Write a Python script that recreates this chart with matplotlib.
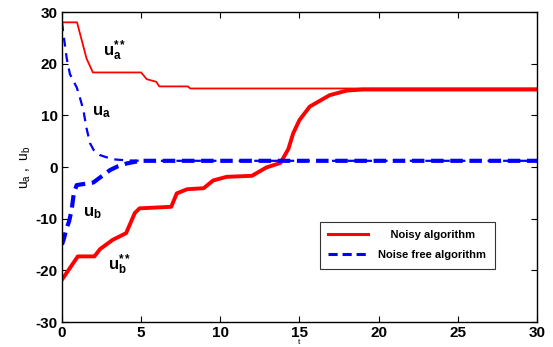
import numpy as np
import matplotlib
matplotlib.use('Agg')
import matplotlib.pyplot as plt

plt.rcParams['font.family'] = ['Liberation Sans', 'DejaVu Sans']
plt.rcParams['font.weight'] = 'bold'
plt.rcParams['axes.unicode_minus'] = False
plt.rcParams['mathtext.fontset'] = 'custom'
plt.rcParams['mathtext.rm'] = 'Liberation Sans:bold'
plt.rcParams['mathtext.it'] = 'Liberation Sans:bold'
plt.rcParams['mathtext.bf'] = 'Liberation Sans:bold'

# noisy algorithm, u_a**
t_ua_noisy = [0, 0.95, 1.55, 1.95, 5.0, 5.35, 5.95, 6.15, 7.95, 8.1, 30]
ua_noisy = [28, 28, 21, 18.3, 18.3, 17.0, 16.5, 15.6, 15.6, 15.2, 15.2]

# noisy algorithm, u_b**
t_ub_noisy = [0, 1.0, 2.05, 2.4, 3.2, 4.05, 4.6, 4.9, 6.9, 7.25, 7.9, 8.95, 9.55,
              10.4, 12.0, 12.9, 13.8, 14.3, 14.6, 15.0, 15.65, 16.9, 18.0, 19.0, 20.0, 30]
ub_noisy = [-21.8, -17.3, -17.3, -15.9, -14.1, -12.8, -8.9, -8.0, -7.7, -5.1, -4.3, -4.1, -2.6,
            -1.9, -1.7, -0.1, 0.8, 3.5, 6.5, 9.1, 11.7, 13.9, 14.8, 15.0, 15.0, 15.0]

# noise free algorithm, u_a
t_ua_free = [0, 0.08, 0.3, 0.5, 0.93, 1.1, 1.35, 1.55, 1.77, 2.0, 2.4, 3.2, 4.0, 5.0, 30]
ua_free = [28, 26, 21, 18, 15.4, 13.8, 11, 7.5, 4.6, 3.3, 2.3, 1.5, 1.3, 1.2, 1.2]

# noise free algorithm, u_b
t_ub_free = [0, 0.1, 0.3, 0.45, 0.61, 0.75, 0.93, 1.98, 2.5, 3.03, 3.5, 4.1, 4.6, 5.0, 30]
ub_free = [-15.0, -14.1, -11.8, -10.5, -8.3, -5.0, -3.5, -3.0, -1.8, -0.6, 0.1, 0.7, 1.0, 1.2, 1.2]

fig = plt.figure(figsize=(5.53, 3.47), dpi=100)
ax = fig.add_axes([0.1121, 0.072, 0.8589, 0.8934])

ax.plot(t_ua_noisy, ua_noisy, color='#ff0000', lw=1.3)
ax.plot(t_ub_noisy, ub_noisy, color='#ff0000', lw=2.8, label='    Noisy algorithm')
ax.plot(t_ua_free, ua_free, color='#0000ff', lw=1.6, ls=(0, (4, 3)))
ax.plot(t_ub_free, ub_free, color='#0000ff', lw=3.0, ls=(0, (3, 1.6)), label='Noise free algorithm')

ax.text(2.6, 21.5, r'$\mathregular{u_a^{**}}$', fontsize=12)
ax.text(1.9, 10.0, r'$\mathregular{u_a}$', fontsize=12)
ax.text(1.3, -9.5, r'$\mathregular{u_b}$', fontsize=12)
ax.text(2.9, -20.0, r'$\mathregular{u_b^{**}}$', fontsize=12)

ax.set_xlim(0, 30)
ax.set_ylim(-30, 30)
ax.set_xticks([0, 5, 10, 15, 20, 25, 30])
ax.set_yticks([-30, -20, -10, 0, 10, 20, 30])
ax.tick_params(direction='in', top=True, right=True, labelsize=11, length=4, pad=3)
for s in ax.spines.values():
    s.set_linewidth(1.0)

ax.set_xlabel('t', fontsize=6, labelpad=-1)
ax.set_ylabel(r'$\mathregular{u_a\ ,\ u_b}$', fontsize=10, labelpad=2)

leg = ax.legend(loc='upper left', bbox_to_anchor=(0.543, 0.323), fontsize=8,
                borderaxespad=0, frameon=True, fancybox=False, edgecolor='black',
                handlelength=3.6, handletextpad=0.9, borderpad=0.75, labelspacing=0.9)
leg.get_frame().set_linewidth(0.8)
for h in leg.legend_handles:
    h.set_linewidth(2.2)

fig.savefig('out.png', dpi=100)
